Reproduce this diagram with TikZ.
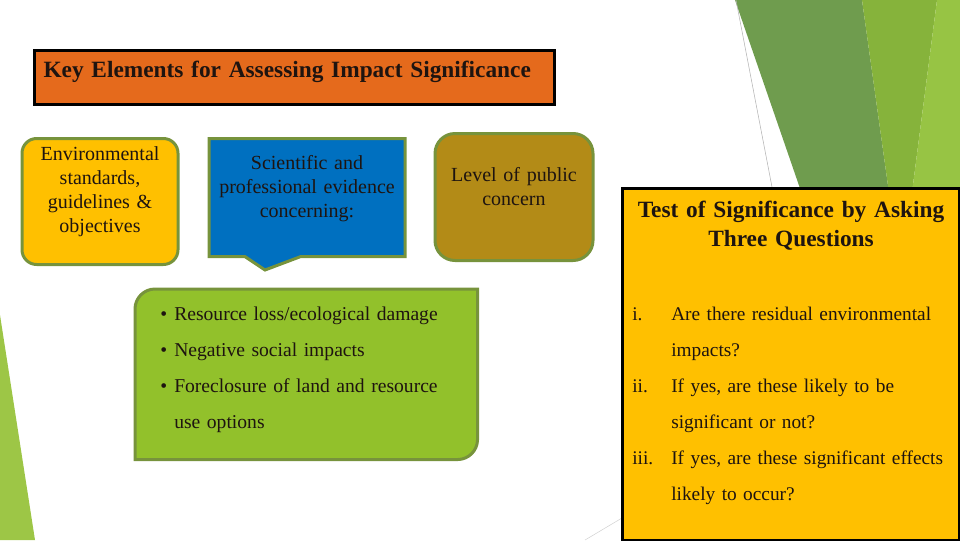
\documentclass[tikz,border=0pt]{standalone}
\usepackage{fontspec}
\setmainfont{Liberation Serif}
\usepackage{tikz}
\usetikzlibrary{positioning,shapes.callouts,backgrounds}
\definecolor{titleorange}{HTML}{E56A1C}
\definecolor{edgegreen}{HTML}{77933C}
\definecolor{panelyellow}{HTML}{FFC000}
\definecolor{evidenceblue}{HTML}{0070C0}
\definecolor{concernolive}{HTML}{B38B17}
\definecolor{impactgreen}{HTML}{92C12B}
\definecolor{inktext}{HTML}{1E1410}
\definecolor{decodark}{HTML}{6F9C4E}
\definecolor{decomid}{HTML}{86B33B}
\definecolor{decolight}{HTML}{97C444}
\definecolor{decoleft}{HTML}{9DC646}
\tikzset{
    element/.style={draw=edgegreen, line width=2.25pt, inner xsep=4pt, inner ysep=0pt,
        text=inktext, align=center, font=\fontsize{15}{18}\selectfont},
    headbox/.style={draw=black, line width=2.25pt, fill=titleorange, inner ysep=0pt,
        text=inktext},
    listtext/.style={inner sep=0pt, align=left, text=inktext,
        font=\fontsize{14.7}{27}\selectfont}
}
\newcommand{\itemmark}[1]{\makebox[29.25pt][l]{#1}}
\newcommand{\bulletmark}{\makebox[10.5pt][l]{\textbullet}}

\begin{document}
\begin{tikzpicture}[x=0.75pt, y=-0.75pt]
    \useasboundingbox (0,0) rectangle (960,540);
    % theme decoration
    \fill[decoleft] (0,315) -- (35,540) -- (0,540) -- cycle;
    \fill[decodark] (735,0) -- (862,0) -- (890,200) -- (804,200) -- cycle;
    \fill[decomid] (862,0) -- (937,0) -- (911,200) -- (890,200) -- cycle;
    \fill[decolight] (937,0) -- (960,0) -- (960,200) -- (911,200) -- cycle;
    \draw[gray!60, line width=0.4pt] (736,0) -- (772,187);
    \draw[gray!35, line width=0.4pt] (585,540) -- (622,518);

    \node[headbox, anchor=north west, text width=376.5pt, inner xsep=6.75pt, align=left,
        text height=20.25pt, text depth=20.25pt, font=\fontsize{17.5}{20}\selectfont\bfseries]
        (keyelements) at (33,49) {Key Elements for Assessing Impact Significance};
    \node[element, fill=panelyellow, rounded corners=11pt, anchor=north, text width=109pt,
        text height=16.5pt, text depth=78pt] (standards) at (100,137)
        {Environmental\\ standards,\\ guidelines \&\\ objectives};
    \node[element, fill=evidenceblue, rectangle callout, callout absolute pointer={(265,270)},
        callout pointer width=42pt, anchor=north, text width=139pt,
        text height=23.25pt, text depth=65.25pt] (evidence) at (307,137)
        {Scientific and\\ professional evidence\\ concerning:};
    \node[element, fill=concernolive, rounded corners=15pt, anchor=north, text width=110.5pt,
        text height=36pt, text depth=59.25pt] (concern) at (514,132)
        {Level of public\\ concern};
    \node[listtext, anchor=north west, inner xsep=18.75pt, text width=219pt,
        text height=23.25pt, text depth=104.25pt] (impacts) at (135,289)
        {\bulletmark Resource loss/ecological damage\\
         \bulletmark Negative social impacts\\
         \bulletmark Foreclosure of land and resource\\
         \hspace*{10.5pt}use options};
    \begin{pgfonlayer}{background}
        \draw[draw=edgegreen, line width=2.25pt, fill=impactgreen] (impacts.north east)
            -- ([xshift=15pt]impacts.north west) arc[start angle=90, end angle=180, radius=15pt]
            -- (impacts.south west)
            -- ([xshift=-15pt]impacts.south east) arc[start angle=270, end angle=360, radius=15pt]
            -- cycle;
    \end{pgfonlayer}

    \node[headbox, fill=panelyellow, anchor=north west, text width=252.75pt, inner xsep=0pt,
        align=center, text height=21.75pt, text depth=242.25pt,
        font=\fontsize{17.5}{21.75}\selectfont\bfseries] (significance) at (621,187)
        {Test of Significance by Asking\\ Three Questions};
    \node[listtext, anchor=base west, text width=250pt, font=\fontsize{14.5}{27}\selectfont]
        (questions) at (632,320)
        {\itemmark{i.}Are there residual environmental\\
         \itemmark{}impacts?\\
         \itemmark{ii.}If yes, are these likely to be\\
         \itemmark{}significant or not?\\
         \itemmark{iii.}If yes, are these significant effects\\
         \itemmark{}likely to occur?};
\end{tikzpicture}
\end{document}
